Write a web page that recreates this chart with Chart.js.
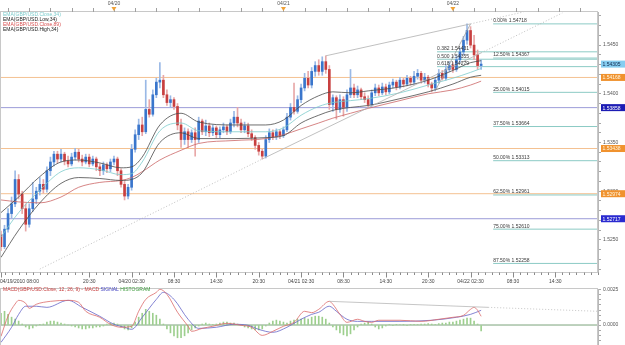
<!DOCTYPE html>
<html>
<head>
<meta charset="utf-8">
<title>GBP/USD 30m</title>
<script src="https://cdn.jsdelivr.net/npm/chart.js@4.4.1/dist/chart.umd.min.js"></script>
<style>
  html, body { margin: 0; padding: 0; background: #ffffff; }
  #wrap { position: relative; width: 625px; height: 345px; overflow: hidden; }
  #priceChart { position: absolute; left: 0; top: 0; }
  #macdChart { position: absolute; left: 0; top: 286px; }
</style>
</head>
<body>
<div id="wrap">
  <canvas id="priceChart" width="625" height="286"></canvas>
  <canvas id="macdChart" width="625" height="70"></canvas>
</div>
<script>
const FONT = '"Liberation Sans", Arial, sans-serif';

// 30-minute candles, index 0 = 04/19/2010 08:00
const opens = [
  1.5255, 1.5243, 1.5261, 1.5277, 1.5287, 1.5312, 1.5297, 1.5282, 1.5266, 1.5282,
  1.5292, 1.5300, 1.5307, 1.5302, 1.5321, 1.5330, 1.5338, 1.5333, 1.5338, 1.5331,
  1.5328, 1.5335, 1.5340, 1.5333, 1.5330, 1.5335, 1.5328, 1.5333, 1.5325, 1.5321,
  1.5327, 1.5323, 1.5330, 1.5333, 1.5321, 1.5307, 1.5295, 1.5304, 1.5343, 1.5358,
  1.5368, 1.5361, 1.5384, 1.5379, 1.5399, 1.5412, 1.5414, 1.5399, 1.5391, 1.5394,
  1.5387, 1.5368, 1.5353, 1.5361, 1.5353, 1.5360, 1.5353, 1.5372, 1.5361, 1.5367,
  1.5360, 1.5365, 1.5358, 1.5363, 1.5366, 1.5361, 1.5370, 1.5376, 1.5370, 1.5363,
  1.5367, 1.5359, 1.5355, 1.5347, 1.5341, 1.5336, 1.5353, 1.5360, 1.5356, 1.5361,
  1.5357, 1.5363, 1.5376, 1.5386, 1.5382, 1.5394, 1.5406, 1.5416, 1.5409, 1.5423,
  1.5429, 1.5423, 1.5433, 1.5425, 1.5389, 1.5396, 1.5384, 1.5394, 1.5386, 1.5399,
  1.5406, 1.5399, 1.5404, 1.5397, 1.5394, 1.5389, 1.5401, 1.5406, 1.5401, 1.5407,
  1.5402, 1.5409, 1.5412, 1.5407, 1.5414, 1.5410, 1.5416, 1.5412, 1.5418, 1.5421,
  1.5414, 1.5417, 1.5410, 1.5406, 1.5414, 1.5421, 1.5416, 1.5425, 1.5429, 1.5425,
  1.5435, 1.5443, 1.5455, 1.5465, 1.5450, 1.5440, 1.5429
];
const highs = [
  1.5259, 1.5265, 1.5282, 1.5294, 1.5321, 1.5317, 1.5300, 1.5287, 1.5287, 1.5309,
  1.5304, 1.5314, 1.5312, 1.5325, 1.5335, 1.5341, 1.5341, 1.5343, 1.5340, 1.5336,
  1.5339, 1.5344, 1.5343, 1.5337, 1.5338, 1.5338, 1.5336, 1.5335, 1.5328, 1.5330,
  1.5329, 1.5333, 1.5336, 1.5335, 1.5323, 1.5310, 1.5307, 1.5348, 1.5363, 1.5374,
  1.5376, 1.5414, 1.5394, 1.5404, 1.5416, 1.5432, 1.5419, 1.5404, 1.5398, 1.5396,
  1.5390, 1.5374, 1.5365, 1.5364, 1.5363, 1.5365, 1.5376, 1.5374, 1.5373, 1.5370,
  1.5368, 1.5367, 1.5366, 1.5370, 1.5368, 1.5374, 1.5382, 1.5386, 1.5374, 1.5371,
  1.5370, 1.5363, 1.5357, 1.5350, 1.5343, 1.5357, 1.5364, 1.5363, 1.5364, 1.5363,
  1.5366, 1.5380, 1.5390, 1.5411, 1.5398, 1.5410, 1.5421, 1.5423, 1.5427, 1.5433,
  1.5435, 1.5438, 1.5439, 1.5429, 1.5399, 1.5398, 1.5399, 1.5397, 1.5404, 1.5425,
  1.5410, 1.5408, 1.5406, 1.5401, 1.5398, 1.5404, 1.5410, 1.5409, 1.5411, 1.5410,
  1.5412, 1.5415, 1.5414, 1.5417, 1.5416, 1.5419, 1.5418, 1.5423, 1.5425, 1.5423,
  1.5421, 1.5419, 1.5412, 1.5417, 1.5425, 1.5424, 1.5429, 1.5433, 1.5432, 1.5439,
  1.5447, 1.5459, 1.54718, 1.5469, 1.5460, 1.5445, 1.5435
];
const lows = [
  1.5239, 1.5241, 1.5258, 1.5272, 1.5284, 1.5292, 1.5277, 1.5259, 1.5263, 1.5279,
  1.5287, 1.5296, 1.5298, 1.5299, 1.5316, 1.5326, 1.5329, 1.5330, 1.5327, 1.5325,
  1.5326, 1.5332, 1.5330, 1.5326, 1.5328, 1.5325, 1.5326, 1.5321, 1.5316, 1.5317,
  1.5319, 1.5320, 1.5327, 1.5316, 1.5304, 1.5291, 1.5292, 1.5301, 1.5340, 1.5353,
  1.5357, 1.5359, 1.5376, 1.5377, 1.5396, 1.5406, 1.5396, 1.5388, 1.5386, 1.5384,
  1.5363, 1.5345, 1.5348, 1.5345, 1.5350, 1.5336, 1.5350, 1.5358, 1.5357, 1.5356,
  1.5357, 1.5355, 1.5355, 1.5360, 1.5358, 1.5359, 1.5366, 1.5366, 1.5360, 1.5360,
  1.5356, 1.5352, 1.5343, 1.5337, 1.5333, 1.5334, 1.5350, 1.5353, 1.5353, 1.5354,
  1.5355, 1.5361, 1.5373, 1.5379, 1.5380, 1.5391, 1.5403, 1.5406, 1.5406, 1.5418,
  1.5419, 1.5419, 1.5421, 1.5384, 1.5382, 1.5374, 1.5381, 1.5377, 1.5382, 1.5396,
  1.5396, 1.5396, 1.5394, 1.5391, 1.5386, 1.5387, 1.5398, 1.5398, 1.5399, 1.5399,
  1.5400, 1.5406, 1.5404, 1.5405, 1.5407, 1.5408, 1.5409, 1.5410, 1.5415, 1.5411,
  1.5411, 1.5407, 1.5402, 1.5403, 1.5411, 1.5414, 1.5414, 1.5423, 1.5422, 1.5423,
  1.5432, 1.5440, 1.5451, 1.5447, 1.5435, 1.5425, 1.5425
];
const closes = [
  1.5243, 1.5261, 1.5277, 1.5287, 1.5312, 1.5297, 1.5282, 1.5266, 1.5282, 1.5292,
  1.5300, 1.5307, 1.5302, 1.5321, 1.5330, 1.5338, 1.5333, 1.5338, 1.5331, 1.5328,
  1.5335, 1.5340, 1.5333, 1.5330, 1.5335, 1.5328, 1.5333, 1.5325, 1.5321, 1.5327,
  1.5323, 1.5330, 1.5333, 1.5321, 1.5307, 1.5295, 1.5304, 1.5343, 1.5358, 1.5368,
  1.5361, 1.5384, 1.5379, 1.5399, 1.5412, 1.5414, 1.5399, 1.5391, 1.5394, 1.5387,
  1.5368, 1.5353, 1.5361, 1.5353, 1.5360, 1.5353, 1.5372, 1.5361, 1.5367, 1.5360,
  1.5365, 1.5358, 1.5363, 1.5366, 1.5361, 1.5370, 1.5376, 1.5370, 1.5363, 1.5367,
  1.5359, 1.5355, 1.5347, 1.5341, 1.5336, 1.5353, 1.5360, 1.5356, 1.5361, 1.5357,
  1.5363, 1.5376, 1.5386, 1.5382, 1.5394, 1.5406, 1.5416, 1.5409, 1.5423, 1.5429,
  1.5423, 1.5433, 1.5425, 1.5389, 1.5396, 1.5384, 1.5394, 1.5386, 1.5399, 1.5406,
  1.5399, 1.5404, 1.5397, 1.5394, 1.5389, 1.5401, 1.5406, 1.5401, 1.5407, 1.5402,
  1.5409, 1.5412, 1.5407, 1.5414, 1.5410, 1.5416, 1.5412, 1.5418, 1.5421, 1.5414,
  1.5417, 1.5410, 1.5406, 1.5414, 1.5421, 1.5416, 1.5425, 1.5429, 1.5425, 1.5435,
  1.5443, 1.5455, 1.5465, 1.5450, 1.5440, 1.5429, 1.54305
];

// EMA lines, sampled at these candle indices
const emaIdx = [0, 5, 11, 17, 22, 28, 34, 37, 40, 45, 51, 56, 66, 75, 80, 85, 90, 94, 99, 104, 113, 121, 128, 133, 136];
const emaClose34 = [1.5253, 1.5278, 1.5301, 1.5320, 1.5324, 1.5322, 1.5317, 1.5318, 1.5330, 1.5362, 1.5370, 1.5362, 1.5361, 1.5361, 1.5365, 1.5378, 1.5387, 1.5391, 1.5393, 1.5395, 1.5401, 1.5409, 1.5416, 1.5422, 1.5426];
const emaLow34 = [1.5232, 1.5260, 1.5288, 1.5308, 1.5314, 1.5313, 1.5311, 1.5312, 1.5319, 1.5350, 1.5360, 1.5354, 1.5354, 1.5355, 1.5357, 1.5370, 1.5378, 1.5383, 1.5386, 1.5388, 1.5395, 1.5402, 1.5410, 1.5417, 1.5419];
const emaClose89 = [1.5291, 1.5289, 1.5288, 1.5294, 1.5304, 1.5309, 1.5311, 1.5314, 1.5320, 1.5332, 1.5342, 1.5349, 1.5352, 1.5354, 1.5358, 1.5364, 1.5370, 1.5375, 1.5380, 1.5385, 1.5393, 1.5400, 1.5404, 1.5409, 1.5413];
const emaHigh34 = [1.5278, 1.5294, 1.5315, 1.5330, 1.5332, 1.5329, 1.5324, 1.5325, 1.5335, 1.5368, 1.5380, 1.5371, 1.5368, 1.5368, 1.5373, 1.5388, 1.5398, 1.5402, 1.5401, 1.5403, 1.5407, 1.5414, 1.5424, 1.5432, 1.5434];
const emaNames = ['EMA(GBP/USD.Close,34)', 'EMA(GBP/USD.Low,34)', 'EMA(GBP/USD.Close,89)', 'EMA(GBP/USD.High,34)'];

// Horizontal levels across the whole chart
const levelValues = [1.54168, 1.53858, 1.53438, 1.52974, 1.52717];
const levelKinds = ['orange', 'blue', 'orange', 'orange', 'blue'];

// Fibonacci levels
const fibPercents = ['0.00%', '12.50%', '25.00%', '37.50%', '50.00%', '62.50%', '75.00%', '87.50%'];
const fibValues = [1.54718, 1.54367, 1.54015, 1.53664, 1.53313, 1.52961, 1.52610, 1.52258];
const retraceRatios = ['0.382', '0.500', '0.618'];
const retraceValues = [1.54431, 1.54355, 1.54279];

// Trend lines (candle index, price)
const lowerTrendIdx = [11, 74, 136, 159];
const lowerTrendVal = [1.5220, 1.5333, 1.5442, 1.5483];
const upperTrendIdx = [92, 133, 148];
const upperTrendVal = [1.5439, 1.54718, 1.5484];
const swingIdx = [123, 133];
const swingVal = [1.5403, 1.54718];

// MACD(12, 26, 9)
const macdIdx = [0, 2, 4, 5, 7, 8, 10, 14, 19, 22, 24, 28, 31, 34, 37, 39, 41, 44, 45, 47, 50, 53, 54, 57, 60, 64, 68, 71, 74, 77, 80, 83, 86, 88, 90, 93, 94, 96, 98, 101, 103, 105, 107, 113, 119, 124, 128, 131, 133, 134, 135, 136];
const macdVals = [
  -0.00081, 0.00064, 0.00150, 0.00176, 0.00155, 0.00119, 0.00148, 0.00169, 0.00176, 0.00162,
  0.00098, 0.00055, 0.00005, -0.00016, -0.00009, 0.00098, 0.00183, 0.00233, 0.00255, 0.00219,
  0.00091, -0.00009, -0.00045, -0.00024, -0.00009, 0.00012, -0.00002, -0.00016, -0.00074, -0.00045,
  -0.00009, 0.00019, 0.00098, 0.00088, 0.00112, 0.00169, 0.00148, 0.00076, 0.00019, 0.00041,
  0.00026, 0.00019, 0.00034, 0.00034, 0.00026, 0.00041, 0.00055, 0.00069, 0.00112, 0.00126,
  0.00105, 0.00062
];
const signalIdx = [0, 3, 5, 7, 10, 13, 19, 23, 28, 32, 35, 37, 40, 44, 46, 49, 53, 56, 61, 66, 70, 73, 77, 81, 85, 88, 90, 93, 95, 98, 101, 105, 113, 122, 129, 133, 136];
const signalVals = [
  -0.00124, -0.00016, 0.00076, 0.00134, 0.00134, 0.00126, 0.00176, 0.00126, 0.00062, 0.00005,
  -0.00016, -0.00031, 0.00055, 0.00183, 0.00233, 0.00183, 0.00041, -0.00024, -0.00016, 0.00005,
  -0.00002, -0.00031, -0.00052, -0.00016, 0.00041, 0.00076, 0.00091, 0.00134, 0.00098, 0.00041,
  0.00026, 0.00026, 0.00026, 0.00034, 0.00055, 0.00076, 0.00105
];
const histogram = [
  0.00084, 0.00098, 0.00077, 0.00056, 0.00042, 0.00028, 0.00007, -0.00014, -0.00028, -0.00021,
  -0.00007, 0.00002, 0.00007, 0.00021, 0.00028, 0.00028, 0.00021, 0.00014, 0.00007, 0,
  -0.00007, -0.00014, -0.00021, -0.00028, -0.00028, -0.00021, -0.00021, -0.00014, -0.00014, -0.00007,
  0.00007, 0.00014, 0.00014, 0.00007, -0.00014, -0.00028, -0.00035, -0.00021, 0.00021, 0.00056,
  0.00084, 0.00112, 0.00098, 0.00084, 0.00070, 0.00042, 0.00007, -0.00028, -0.00056, -0.00077,
  -0.00091, -0.00091, -0.00077, -0.00056, -0.00035, -0.00021, -0.00007, 0.00007, 0.00014, 0.00007,
  0.00003, 0.00007, 0.00014, 0.00021, 0.00021, 0.00014, 0.00014, 0.00007, 0, -0.00014,
  -0.00021, -0.00028, -0.00035, -0.00035, -0.00028, -0.00007, 0.00014, 0.00028, 0.00035, 0.00028,
  0.00021, 0.00014, 0.00028, 0.00035, 0.00042, 0.00042, 0.00049, 0.00042, 0.00056, 0.00063,
  0.00063, 0.00056, 0.00042, 0.00014, -0.00014, -0.00035, -0.00056, -0.00070, -0.00077, -0.00063,
  -0.00035, -0.00014, 0.00007, 0.00014, 0.00021, 0.00007, -0.00014, -0.00028, -0.00021, -0.00007,
  0.00003, -0.00003, 0.00002, 0.00004, 0.00001, -0.00002, 0.00003, 0.00005, 0.00004, 0.00007,
  0.00007, 0.00010, 0.00007, 0.00003, 0.00010, 0.00014, 0.00014, 0.00021, 0.00021, 0.00028,
  0.00035, 0.00042, 0.00049, 0.00049, 0.00028, 0.00007, -0.00042
];
const macdTrendIdx = [93, 138, 169];
const macdTrendVal = [0.00169, 0.00126, 0.00098];

// Time axis
const timeTickIdx = [0, 25, 37, 49, 61, 73, 85, 97, 109, 121, 133, 145, 157];
const timeTickLabels = ['04/19/2010 08:00', '20:30', '04/20 02:30', '08:30', '14:30', '20:30', '04/21 02:30', '08:30', '14:30', '20:30', '04/22 02:30', '08:30', '14:30'];
const dayIdx = [32, 80, 128];
const dayLabels = ['04/20', '04/21', '04/22'];

// View
const xMin = -0.28;
const xMax = 169.1;
const priceMin = 1.5217;
const priceMax = 1.5484;
const macdMin = -0.00164;
const macdMax = 0.00257;
const fibStartIdx = 139.4;
const retraceStartIdx = 123.5;

const col = {
  upBody: "#3a76cc",
  upWick: "#9ab9e6",
  downBody: "#c84040",
  downWick: "#e8a8a8",
  emaClose34: "#7ccccc",
  emaLow34: "#4a4a4a",
  emaClose89: "#cc6666",
  emaHigh34: "#4a4a4a",
  orange: "#f4c191",
  blue: "#9c9cd8",
  fib: "#8ccbc5",
  trend: "#b0b0b0",
  frame: "#c8c8c8",
  text: "#444444",
  macd: "#dc6a6a",
  signal: "#6464c8",
  hist: "#9dcf8e",
  zero: "#7ba37b",
};

const candleIdx = opens.map((_, i) => i);
const lastPrice = closes[closes.length - 1];
const isUp = (i) => closes[i] >= opens[i];

function lineSet(xs, ys, color, extra) {
  return Object.assign(
    {
      type: "line",
      data: xs.map((x, k) => ({ x: x, y: ys[k] })),
      borderColor: color,
      borderWidth: 1,
      pointRadius: 0,
      fill: false,
    },
    extra || {}
  );
}

// Price panel decorations: frame, top date strip, time axis, level tags, fib labels, legend
const priceDecor = {
  id: "priceDecor",
  afterDatasetsDraw(chart) {
    const { ctx, chartArea: a } = chart;
    const x = chart.scales.x;
    const y = chart.scales.y;
    ctx.save();

    ctx.strokeStyle = col.frame;
    ctx.lineWidth = 1;
    ctx.strokeRect(a.left + 0.5, Math.round(a.top) - 0.5, a.right - a.left - 1, a.bottom - a.top + 1);

    // top date strip
    ctx.strokeStyle = "#a0a0a0";
    ctx.beginPath();
    for (let i = 2; i <= xMax; i += 6) {
      const px = Math.round(x.getPixelForValue(i)) + 0.5;
      ctx.moveTo(px, a.top - 4);
      ctx.lineTo(px, a.top);
    }
    ctx.stroke();
    ctx.font = `5px ${FONT}`;
    ctx.textAlign = "center";
    ctx.textBaseline = "middle";
    dayIdx.forEach((d, k) => {
      const px = x.getPixelForValue(d);
      ctx.fillStyle = "#555";
      ctx.fillText(dayLabels[k], px, 3.5);
      ctx.fillStyle = "#f0a238";
      ctx.beginPath();
      ctx.moveTo(px - 2.5, 7);
      ctx.lineTo(px + 2.5, 7);
      ctx.lineTo(px, 11);
      ctx.closePath();
      ctx.fill();
    });

    // bottom time axis
    const yb = Math.round(a.bottom) + 0.5;
    ctx.strokeStyle = "#8a8a8a";
    ctx.beginPath();
    for (let i = 1; i <= xMax; i += 2) {
      const px = Math.round(x.getPixelForValue(i)) + 0.5;
      ctx.moveTo(px, yb);
      ctx.lineTo(px, yb + 2.5);
    }
    timeTickIdx.forEach((i) => {
      const px = Math.round(x.getPixelForValue(i)) + 0.5;
      ctx.moveTo(px, yb);
      ctx.lineTo(px, yb + 5);
    });
    ctx.stroke();
    ctx.fillStyle = col.text;
    timeTickIdx.forEach((i, k) => {
      const px = x.getPixelForValue(i);
      ctx.textAlign = k === 0 ? "left" : "center";
      ctx.fillText(timeTickLabels[k], k === 0 ? 0 : px, yb + 9.5);
    });

    // level tags on the price axis
    const tags = [[lastPrice, "#86cdf0", "#102a50"]];
    levelValues.forEach((v, k) => {
      if (levelKinds[k] === "orange") tags.push([v, "#f0922e", "#fff6e0"]);
      else tags.push([v, k === 1 ? "#1c1cb4" : "#2a2ad0", "#ffffff"]);
    });
    ctx.textAlign = "left";
    tags.forEach(([v, bg, fg]) => {
      const py = y.getPixelForValue(v);
      ctx.fillStyle = bg;
      ctx.fillRect(a.right + 3, py - 3.5, 24, 7);
      ctx.fillStyle = fg;
      ctx.fillText(v.toFixed(5), a.right + 4.5, py + 0.5);
    });

    // fibonacci labels
    ctx.fillStyle = "#3a3a3a";
    ctx.textBaseline = "bottom";
    const fx = x.getPixelForValue(fibStartIdx);
    fibValues.forEach((v, k) => {
      ctx.fillText(`${fibPercents[k]} ${v.toFixed(5)}`, fx, y.getPixelForValue(v) - 0.5);
    });
    const rx = x.getPixelForValue(retraceStartIdx);
    retraceValues.forEach((v, k) => {
      ctx.fillText(`${retraceRatios[k]} ${v.toFixed(5)}`, rx, y.getPixelForValue(v) - 0.5);
    });

    // legend
    const legendColors = [col.emaClose34, "#222", "#d85050", "#222"];
    ctx.textBaseline = "middle";
    emaNames.forEach((name, k) => {
      ctx.fillStyle = legendColors[k];
      ctx.fillText(name, 3, a.top + 2.5 + k * 5);
    });
    ctx.restore();
  },
};

// MACD panel decorations: frame and colored title
const macdDecor = {
  id: "macdDecor",
  afterDatasetsDraw(chart) {
    const { ctx, chartArea: a } = chart;
    ctx.save();
    ctx.strokeStyle = col.frame;
    ctx.lineWidth = 1;
    ctx.strokeRect(a.left + 0.5, Math.round(a.top) - 0.5, a.right - a.left - 1, a.bottom - a.top + 10);
    ctx.font = `5px ${FONT}`;
    ctx.textAlign = "left";
    ctx.textBaseline = "middle";
    const parts = [
      ["MACD(GBP/USD.Close, 12, 26, 9) - MACD ", "#c84040"],
      ["SIGNAL ", "#4040c0"],
      ["HISTOGRAM", "#3a9a3a"],
    ];
    let tx = 3;
    parts.forEach(([t, c]) => {
      ctx.fillStyle = c;
      ctx.fillText(t, tx, a.top + 1);
      tx += ctx.measureText(t).width;
    });
    ctx.restore();
  },
};

const priceTicks = [];
for (let k = 1522; k <= 1548; k++) priceTicks.push(k / 1000);
const macdTicks = [];
for (let k = -4; k <= 7; k++) macdTicks.push((k * 0.0025) / 7);

function rightAxis(min, max, ticks, labelFn) {
  return {
    position: "right",
    min: min,
    max: max,
    afterBuildTicks: (s) => {
      s.ticks = ticks.map((v) => ({ value: v }));
    },
    afterFit: (s) => {
      s.width = 27;
      s.paddingTop = 0;
      s.paddingBottom = 0;
    },
    grid: { drawOnChartArea: false, tickLength: 3, color: "#a8a8a8" },
    border: { color: "#b8b8b8" },
    ticks: {
      autoSkip: false,
      padding: 2,
      color: "#555",
      font: { family: FONT, size: 5 },
      callback: labelFn,
    },
  };
}

const xAxis = { type: "linear", display: false, min: xMin, max: xMax, offset: false };

const levelSets = levelValues.map((v, k) =>
  lineSet([xMin, xMax], [v, v], col[levelKinds[k]], { borderWidth: 1, order: 20 })
);
const fibSets = fibValues.map((v) => lineSet([fibStartIdx, xMax], [v, v], col.fib, { order: 19 }));
const retraceSets = retraceValues.map((v) =>
  lineSet([retraceStartIdx, xMax], [v, v], col.fib, { order: 19 })
);
const thin = { borderWidth: 0.8 };

new Chart(document.getElementById("priceChart"), {
  type: "bar",
  data: {
    datasets: [
      ...levelSets,
      ...fibSets,
      ...retraceSets,
      {
        data: candleIdx.map((i) => ({ x: i, y: [lows[i], highs[i]] })),
        barThickness: 1,
        grouped: false,
        backgroundColor: (c) => (isUp(c.dataIndex) ? col.upWick : col.downWick),
        order: 7,
      },
      {
        data: candleIdx.map((i) => ({ x: i, y: [opens[i], closes[i]] })),
        barThickness: 2,
        minBarLength: 1,
        grouped: false,
        backgroundColor: (c) => (isUp(c.dataIndex) ? col.upBody : col.downBody),
        order: 6,
      },
      lineSet(emaIdx, emaClose89, col.emaClose89, { ...thin, cubicInterpolationMode: "monotone", order: 5 }),
      lineSet(emaIdx, emaLow34, col.emaLow34, { ...thin, cubicInterpolationMode: "monotone", order: 4 }),
      lineSet(emaIdx, emaHigh34, col.emaHigh34, { ...thin, cubicInterpolationMode: "monotone", order: 4 }),
      lineSet(emaIdx, emaClose34, col.emaClose34, { ...thin, cubicInterpolationMode: "monotone", order: 3 }),
      lineSet(lowerTrendIdx.slice(0, 2), lowerTrendVal.slice(0, 2), col.trend, { ...thin, borderDash: [1, 2], order: 2 }),
      lineSet(lowerTrendIdx.slice(1, 3), lowerTrendVal.slice(1, 3), col.trend, { ...thin, order: 2 }),
      lineSet(lowerTrendIdx.slice(2), lowerTrendVal.slice(2), col.trend, { ...thin, borderDash: [1, 2], order: 2 }),
      lineSet(upperTrendIdx.slice(0, 2), upperTrendVal.slice(0, 2), col.trend, { ...thin, order: 2 }),
      lineSet(upperTrendIdx.slice(1), upperTrendVal.slice(1), col.trend, { ...thin, borderDash: [1, 2], order: 2 }),
      lineSet(swingIdx, swingVal, "#a0a0a0", { ...thin, order: 2 }),
    ],
  },
  options: {
    responsive: false,
    devicePixelRatio: 1,
    animation: false,
    events: [],
    layout: { padding: { top: 12, bottom: 14, left: 0, right: 0 } },
    plugins: { legend: { display: false }, tooltip: { enabled: false } },
    scales: {
      x: xAxis,
      y: rightAxis(priceMin, priceMax, priceTicks, (v) =>
        Math.round(v * 1000) % 5 === 0 ? v.toFixed(4) : ""
      ),
    },
  },
  plugins: [priceDecor],
});

new Chart(document.getElementById("macdChart"), {
  type: "bar",
  data: {
    datasets: [
      lineSet([xMin, xMax], [0, 0], col.zero, { order: 9 }),
      {
        data: candleIdx.map((i) => ({ x: i, y: histogram[i] })),
        barThickness: 1,
        grouped: false,
        backgroundColor: col.hist,
        order: 8,
      },
      lineSet(signalIdx, signalVals, col.signal, { ...thin, cubicInterpolationMode: "monotone", order: 4 }),
      lineSet(macdIdx, macdVals, col.macd, { ...thin, cubicInterpolationMode: "monotone", order: 3 }),
      lineSet(macdTrendIdx.slice(0, 2), macdTrendVal.slice(0, 2), "#b8b8b8", { ...thin, order: 2 }),
      lineSet(macdTrendIdx.slice(1), macdTrendVal.slice(1), "#b8b8b8", { ...thin, borderDash: [1, 2], order: 2 }),
    ],
  },
  options: {
    responsive: false,
    devicePixelRatio: 1,
    animation: false,
    events: [],
    layout: { padding: { top: 3, bottom: 8, left: 0, right: 0 } },
    plugins: { legend: { display: false }, tooltip: { enabled: false } },
    scales: {
      x: xAxis,
      y: rightAxis(macdMin, macdMax, macdTicks, (v) =>
        Math.abs(v) < 1e-9 || Math.abs(v - 0.0025) < 1e-9 ? v.toFixed(4) : ""
      ),
    },
  },
  plugins: [macdDecor],
});
</script>
</body>
</html>
